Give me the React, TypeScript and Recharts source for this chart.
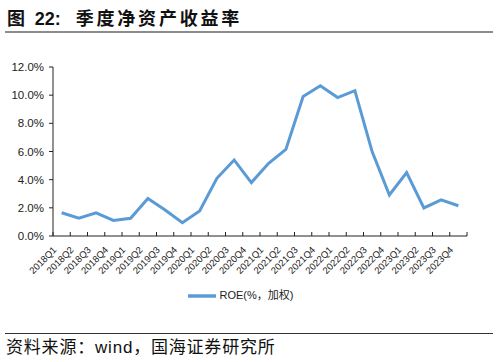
import React from "react";
import { CartesianGrid, Legend, Line, LineChart, XAxis, YAxis } from "recharts";

// 季度ROE（%，加权）
const quarters = [
	"2018Q1", "2018Q2", "2018Q3", "2018Q4",
	"2019Q1", "2019Q2", "2019Q3", "2019Q4",
	"2020Q1", "2020Q2", "2020Q3", "2020Q4",
	"2021Q1", "2021Q2", "2021Q3", "2021Q4",
	"2022Q1", "2022Q2", "2022Q3", "2022Q4",
	"2023Q1", "2023Q2", "2023Q3", "2023Q4"
];
const roe = [
	1.65, 1.26, 1.65, 1.11,
	1.26, 2.67, 1.85, 0.95,
	1.78, 4.1, 5.4, 3.79,
	5.16, 6.15, 9.9, 10.67,
	9.83, 10.32, 5.99, 2.91,
	4.5, 1.99, 2.56, 2.15
];
const yTicks = [0, 2, 4, 6, 8, 10, 12];

const data = quarters.map((q, i) => ({ name: q, roe: roe[i] }));

const CHART_W = 498;
const MARGIN = { top: 67, right: 31, left: 8, bottom: 0 };
const Y_W = 45;
const BAND = (CHART_W - MARGIN.left - MARGIN.right - Y_W) / quarters.length;

const font = '"Liberation Sans", "Noto Sans CJK SC", sans-serif';

function QuarterTick(props: any) {
	const { x, y, payload, index } = props;
	const tx = x - 7;
	const ty = y + 12;
	return (
		<g>
			<line x1={x - BAND / 2} x2={x - BAND / 2} y1={y} y2={y - 4} stroke="#222" />
			{index === quarters.length - 1 && (
				<line x1={x + BAND / 2} x2={x + BAND / 2} y1={y} y2={y - 4} stroke="#222" />
			)}
			<text
				x={tx}
				y={ty}
				textAnchor="end"
				dominantBaseline="central"
				fontSize={9.5}
				fill="#222"
				fontFamily={font}
				transform={`rotate(-45, ${tx}, ${ty})`}
			>
				{payload.value}
			</text>
		</g>
	);
}

export default function App() {
	return (
		<div
			style={{
				position: "absolute",
				top: 0,
				left: 0,
				width: 498,
				height: 362,
				background: "#fff",
				fontFamily: font
			}}
		>
			<div
				style={{
					position: "absolute",
					left: 7,
					top: 5,
					fontSize: 18,
					fontWeight: "bold",
					color: "#111",
					letterSpacing: 2.8,
					whiteSpace: "nowrap",
					fontFamily: '"Noto Sans CJK SC", sans-serif',
					lineHeight: "24px"
				}}
			>
				图 <span style={{ fontFamily: '"Liberation Sans", sans-serif', letterSpacing: 0 }}>22:</span>
				<span style={{ marginLeft: 15 }}>季度净资产收益率</span>
			</div>
			<div style={{ position: "absolute", left: 5, right: 5, top: 31, height: 2, background: "#8c8c8c" }} />

			<div style={{ position: "absolute", left: 0, top: 0 }}>
				<LineChart width={CHART_W} height={310} data={data} margin={MARGIN}>
					<CartesianGrid stroke="none" />
					<XAxis
						dataKey="name"
						scale="band"
						interval={0}
						stroke="#222"
						tickLine={false}
						tickSize={0}
						tickMargin={0}
						height={46}
						tick={<QuarterTick />}
					/>
					<YAxis
						width={Y_W}
						domain={[0, 12]}
						ticks={yTicks}
						stroke="#222"
						tickSize={4}
						tickMargin={5}
						tick={{ fontSize: 11.5, fill: "#222", fontFamily: font }}
						tickFormatter={(v: number) => `${v.toFixed(1)}%`}
					/>
					<Legend
						verticalAlign="bottom"
						iconType="plainline"
						iconSize={28}
						wrapperStyle={{ fontSize: 11, color: "#222", fontFamily: font, paddingLeft: 8 }}
						formatter={() => <span style={{ color: "#222" }}>ROE(%，加权)</span>}
					/>
					<Line
						type="linear"
						dataKey="roe"
						name="ROE(%，加权)"
						stroke="#5b9bd5"
						strokeWidth={3}
						dot={false}
						isAnimationActive={false}
					/>
				</LineChart>
			</div>

			<div style={{ position: "absolute", left: 5, right: 5, top: 333, height: 1, background: "#333" }} />
			<div
				style={{
					position: "absolute",
					left: 6,
					top: 337,
					fontSize: 17,
					color: "#111",
					whiteSpace: "nowrap",
					letterSpacing: 0.8,
					fontFamily: '"Liberation Sans", "Noto Sans CJK SC", sans-serif',
					lineHeight: "22px"
				}}
			>
				资料来源：wind，国海证券研究所
			</div>
		</div>
	);
}
